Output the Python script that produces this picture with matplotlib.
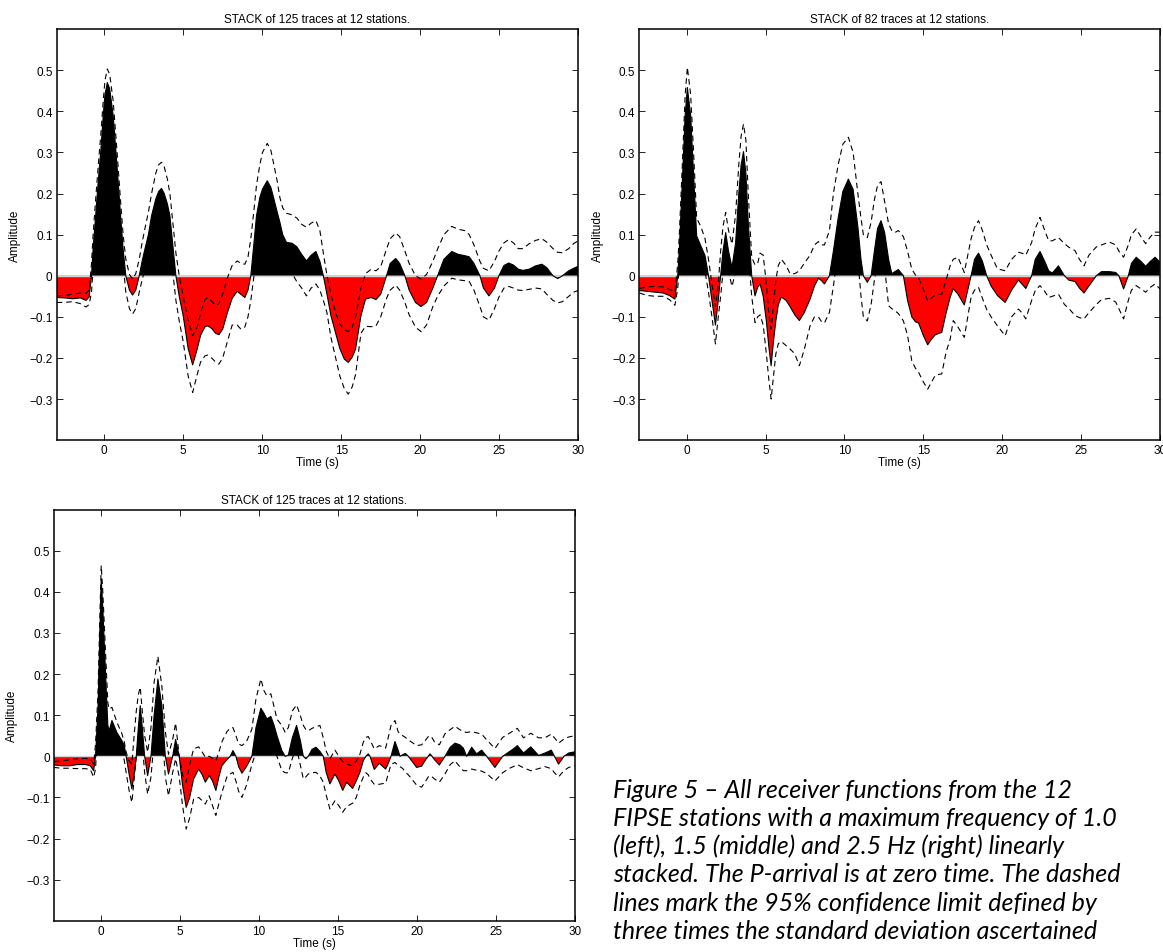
import matplotlib.pyplot as plt
from matplotlib.ticker import FuncFormatter
import numpy as np

# ---- panel 1 : 1.0 Hz, 125 traces ----
p1_time = [-3.0, -2.5, -2.0, -1.5, -1.15, -0.95, -0.8, -0.7, -0.55, -0.38,
           -0.2, -0.06, 0.05, 0.2, 0.35, 0.57, 0.75, 0.89, 1.05, 1.2,
           1.37, 1.6, 1.8, 2.0, 2.22, 2.4, 2.58, 2.8, 3.0, 3.27,
           3.45, 3.63, 3.8, 4.0, 4.16, 4.37, 4.54, 4.75, 5.0, 5.32,
           5.6, 5.89, 6.1, 6.38, 6.55, 6.8, 7.05, 7.26, 7.5, 7.8,
           8.1, 8.42, 8.65, 8.9, 9.1, 9.28, 9.48, 9.64, 9.85, 10.02,
           10.32, 10.55, 10.74, 10.95, 11.12, 11.3, 11.54, 11.9, 12.2, 12.5,
           12.8, 13.1, 13.4, 13.65, 13.87, 14.1, 14.35, 14.65, 14.92, 15.2,
           15.45, 15.7, 15.91, 16.25, 16.54, 16.9, 17.2, 17.5, 17.87, 18.1,
           18.45, 18.7, 19.03, 19.3, 19.7, 20.05, 20.4, 20.8, 21.1, 21.5,
           22.0, 22.4, 22.8, 23.1, 23.4, 23.78, 24.0, 24.35, 24.7, 24.98,
           25.3, 25.6, 25.9, 26.2, 26.5, 26.9, 27.3, 27.7, 28.0, 28.4,
           28.7, 29.0, 29.4, 29.7, 30.0]
p1_amp = [-0.053, -0.054, -0.056, -0.054, -0.06, -0.052, 0.0, 0.065, 0.14, 0.227,
          0.31, 0.39, 0.44, 0.47, 0.455, 0.39, 0.30, 0.227, 0.14, 0.065,
          0.0, -0.035, -0.047, -0.035, 0.0, 0.035, 0.065, 0.1, 0.146, 0.187,
          0.205, 0.2125, 0.2, 0.175, 0.146, 0.065, 0.0, -0.05, -0.097, -0.178,
          -0.217, -0.178, -0.145, -0.124, -0.122, -0.128, -0.14, -0.1435, -0.13, -0.09,
          -0.055, -0.038, -0.045, -0.053, -0.035, 0.0, 0.08, 0.146, 0.19, 0.211,
          0.231, 0.215, 0.187, 0.155, 0.13, 0.1, 0.081, 0.079, 0.07, 0.052,
          0.036, 0.05, 0.059, 0.035, 0.0, -0.045, -0.097, -0.14, -0.178, -0.203,
          -0.211, -0.198, -0.178, -0.097, -0.057, -0.053, -0.058, -0.045, 0.0, 0.03,
          0.042, 0.03, 0.0, -0.035, -0.065, -0.075, -0.065, -0.03, 0.0, 0.04,
          0.059, 0.052, 0.049, 0.046, 0.03, 0.0, -0.03, -0.049, -0.03, 0.0,
          0.025, 0.031, 0.026, 0.016, 0.013, 0.016, 0.024, 0.028, 0.02, 0.0,
          -0.007, 0.0, 0.012, 0.018, 0.023]
p1_upper = [-0.049, -0.048, -0.045, -0.042, -0.043, -0.035, 0.03, 0.1, 0.18, 0.265,
            0.35, 0.425, 0.475, 0.503, 0.49, 0.425, 0.335, 0.262, 0.175, 0.1,
            0.04, 0.003, -0.008, 0.005, 0.04, 0.08, 0.115, 0.155, 0.2, 0.25,
            0.27, 0.276, 0.265, 0.235, 0.2, 0.12, 0.055, 0.0, -0.05, -0.11,
            -0.146, -0.125, -0.09, -0.058, -0.053, -0.062, -0.073, -0.068, -0.045, -0.005,
            0.025, 0.036, 0.03, 0.028, 0.045, 0.09, 0.16, 0.22, 0.27, 0.3,
            0.322, 0.305, 0.27, 0.23, 0.19, 0.165, 0.152, 0.148, 0.14, 0.125,
            0.118, 0.128, 0.134, 0.11, 0.055, 0.0, -0.045, -0.09, -0.118, -0.132,
            -0.136, -0.125, -0.1, -0.03, 0.005, 0.016, 0.012, 0.022, 0.065, 0.09,
            0.104, 0.095, 0.06, 0.03, 0.0, -0.008, 0.003, 0.035, 0.065, 0.1,
            0.12, 0.113, 0.11, 0.1, 0.075, 0.035, 0.018, 0.012, 0.035, 0.06,
            0.08, 0.088, 0.08, 0.066, 0.066, 0.078, 0.086, 0.09, 0.082, 0.066,
            0.057, 0.056, 0.066, 0.078, 0.085]
p1_lower = [-0.065, -0.065, -0.063, -0.068, -0.076, -0.07, -0.04, 0.02, 0.1, 0.185,
            0.27, 0.35, 0.405, 0.435, 0.42, 0.355, 0.265, 0.19, 0.105, 0.03,
            -0.04, -0.08, -0.093, -0.08, -0.04, -0.01, 0.015, 0.045, 0.09, 0.125,
            0.14, 0.148, 0.135, 0.11, 0.08, 0.0, -0.06, -0.11, -0.16, -0.245,
            -0.284, -0.24, -0.21, -0.195, -0.193, -0.2, -0.21, -0.215, -0.2, -0.16,
            -0.12, -0.12, -0.13, -0.125, -0.1, -0.06, 0.0, 0.06, 0.1, 0.125,
            0.14, 0.125, 0.1, 0.07, 0.05, 0.025, 0.01, 0.005, -0.015, -0.03,
            -0.049, -0.03, -0.02, -0.035, -0.06, -0.09, -0.15, -0.2, -0.245, -0.275,
            -0.288, -0.27, -0.24, -0.14, -0.123, -0.124, -0.122, -0.1, -0.055, -0.035,
            -0.023, -0.035, -0.065, -0.095, -0.125, -0.136, -0.12, -0.075, -0.05, -0.025,
            -0.006, -0.01, -0.012, -0.014, -0.035, -0.075, -0.1, -0.108, -0.08, -0.052,
            -0.03, -0.026, -0.03, -0.035, -0.036, -0.033, -0.03, -0.032, -0.045, -0.06,
            -0.066, -0.063, -0.05, -0.04, -0.036]

# ---- panel 2 : 1.5 Hz, 82 traces ----
p2_time = [-3.0, -2.5, -2.0, -1.5, -1.1, -0.75, -0.57, -0.47, -0.28, -0.1,
           0.04, 0.25, 0.46, 0.63, 0.89, 1.16, 1.38, 1.6, 1.82, 2.0,
           2.15, 2.3, 2.47, 2.65, 2.87, 3.1, 3.3, 3.45, 3.6, 3.75,
           3.9, 4.12, 4.33, 4.5, 4.65, 4.85, 5.05, 5.2, 5.35, 5.5,
           5.65, 5.81, 6.0, 6.3, 6.55, 6.85, 7.14, 7.45, 7.82, 8.1,
           8.35, 8.55, 8.73, 9.05, 9.3, 9.6, 9.9, 10.25, 10.55, 10.85,
           11.05, 11.2, 11.45, 11.69, 11.9, 12.1, 12.32, 12.55, 12.8, 13.0,
           13.2, 13.42, 13.74, 14.0, 14.27, 14.5, 14.7, 15.0, 15.28, 15.5,
           15.75, 16.0, 16.17, 16.45, 16.7, 16.9, 17.2, 17.6, 18.03, 18.25,
           18.5, 18.75, 19.02, 19.3, 19.7, 20.19, 20.6, 21.03, 21.25, 21.5,
           21.87, 22.1, 22.4, 22.7, 22.95, 23.18, 23.57, 23.95, 24.24, 24.62,
           24.9, 25.19, 25.5, 25.97, 26.3, 26.8, 27.2, 27.4, 27.7, 28.0,
           28.2, 28.5, 28.8, 29.1, 29.4, 29.7, 30.0]
p2_amp = [-0.036, -0.038, -0.04, -0.042, -0.048, -0.057, 0.0, 0.065, 0.227, 0.39,
          0.458, 0.39, 0.227, 0.097, 0.073, 0.049, 0.0, -0.06, -0.12, -0.06,
          0.0, 0.06, 0.105, 0.06, 0.02, 0.08, 0.2, 0.27, 0.302, 0.25,
          0.13, 0.0, -0.049, -0.028, -0.02, -0.05, -0.11, -0.17, -0.219, -0.16,
          -0.11, -0.07, -0.052, -0.06, -0.075, -0.095, -0.109, -0.09, -0.057, -0.025,
          -0.006, -0.012, -0.02, 0.0, 0.06, 0.14, 0.205, 0.235, 0.21, 0.12,
          0.04, 0.0, -0.016, 0.0, 0.06, 0.115, 0.134, 0.105, 0.04, 0.005,
          0.01, 0.015, 0.0, -0.06, -0.1, -0.112, -0.115, -0.145, -0.168, -0.155,
          -0.144, -0.14, -0.138, -0.09, -0.053, -0.031, -0.045, -0.071, 0.0, 0.04,
          0.055, 0.035, 0.0, -0.025, -0.048, -0.065, -0.035, -0.0105, -0.02, -0.031,
          0.0, 0.04, 0.059, 0.035, 0.012, 0.0065, 0.024, 0.0, -0.011, -0.014,
          -0.03, -0.042, -0.025, 0.0, 0.01, 0.01, 0.008, 0.0, -0.032, 0.0,
          0.03, 0.045, 0.035, 0.023, 0.035, 0.045, 0.033]
p2_upper = [-0.031, -0.027, -0.026, -0.027, -0.033, -0.04, 0.03, 0.1, 0.27, 0.44,
            0.507, 0.44, 0.28, 0.14, 0.12, 0.09, 0.04, -0.02, -0.075, -0.02,
            0.06, 0.12, 0.154, 0.11, 0.077, 0.15, 0.27, 0.34, 0.369, 0.33,
            0.2, 0.045, 0.026, 0.03, 0.055, 0.05, -0.02, -0.09, -0.13, -0.07,
            -0.01, 0.025, 0.04, 0.025, 0.005, 0.005, 0.012, 0.03, 0.05, 0.075,
            0.083, 0.075, 0.075, 0.11, 0.2, 0.27, 0.32, 0.337, 0.3, 0.2,
            0.14, 0.1, 0.093, 0.13, 0.185, 0.22, 0.229, 0.18, 0.126, 0.11,
            0.105, 0.11, 0.095, 0.06, 0.016, 0.002, -0.005, -0.032, -0.062, -0.055,
            -0.047, -0.045, -0.045, -0.01, 0.024, 0.04, 0.045, 0.008, 0.09, 0.118,
            0.134, 0.11, 0.075, 0.05, 0.017, 0.012, 0.04, 0.057, 0.055, 0.05,
            0.081, 0.115, 0.142, 0.11, 0.085, 0.085, 0.093, 0.078, 0.069, 0.061,
            0.04, 0.024, 0.05, 0.07, 0.075, 0.082, 0.075, 0.06, 0.045, 0.075,
            0.1, 0.114, 0.095, 0.078, 0.095, 0.106, 0.106]
p2_lower = [-0.042, -0.048, -0.05, -0.05, -0.058, -0.072, -0.03, 0.03, 0.18, 0.34,
            0.41, 0.34, 0.18, 0.06, 0.03, 0.01, -0.04, -0.1, -0.166, -0.1,
            -0.05, 0.01, 0.055, 0.01, -0.026, 0.01, 0.13, 0.2, 0.235, 0.17,
            0.06, -0.05, -0.114, -0.1, -0.095, -0.12, -0.19, -0.25, -0.3, -0.245,
            -0.19, -0.165, -0.16, -0.17, -0.178, -0.19, -0.219, -0.18, -0.122, -0.1,
            -0.1, -0.112, -0.115, -0.089, -0.025, 0.06, 0.11, 0.135, 0.11, 0.04,
            -0.05, -0.1, -0.11, -0.07, -0.01, 0.03, 0.04, 0.02, -0.073, -0.08,
            -0.085, -0.092, -0.11, -0.145, -0.207, -0.225, -0.235, -0.258, -0.276, -0.26,
            -0.243, -0.24, -0.239, -0.185, -0.155, -0.109, -0.125, -0.15, -0.052, -0.035,
            -0.028, -0.055, -0.082, -0.1, -0.122, -0.146, -0.1, -0.081, -0.09, -0.105,
            -0.06, -0.036, -0.024, -0.038, -0.053, -0.05, -0.045, -0.07, -0.08, -0.097,
            -0.102, -0.105, -0.09, -0.07, -0.058, -0.055, -0.064, -0.08, -0.105, -0.06,
            -0.035, -0.024, -0.032, -0.04, -0.028, -0.02, -0.032]

# ---- panel 3 : 2.5 Hz, 125 traces ----
p3_time = [-3.0, -2.5, -2.0, -1.5, -1.0, -0.69, -0.48, -0.36, -0.2, -0.1,
           0.0, 0.1, 0.22, 0.32, 0.42, 0.5, 0.68, 0.99, 1.31, 1.46,
           1.58, 1.75, 1.94, 2.1, 2.22, 2.35, 2.47, 2.6, 2.75, 2.94,
           3.15, 3.35, 3.59, 3.84, 4.06, 4.26, 4.52, 4.71, 4.94, 5.15,
           5.38, 5.6, 5.85, 6.17, 6.4, 6.59, 6.84, 7.05, 7.26, 7.45,
           7.64, 7.96, 8.17, 8.34, 8.53, 8.7, 8.91, 9.2, 9.54, 9.8,
           10.11, 10.3, 10.49, 10.74, 10.95, 11.13, 11.44, 11.65, 11.85, 12.1,
           12.37, 12.6, 12.8, 12.96, 13.11, 13.35, 13.6, 13.85, 14.06, 14.25,
           14.48, 14.8, 15.05, 15.29, 15.54, 15.92, 16.15, 16.38, 16.6, 16.76,
           16.91, 17.02, 17.29, 17.61, 18.01, 18.2, 18.35, 18.6, 18.8, 18.92,
           19.1, 19.26, 19.45, 19.97, 20.29, 20.55, 20.71, 20.82, 20.95, 21.1,
           21.41, 21.77, 22.1, 22.4, 22.7, 22.93, 23.14, 23.46, 23.77, 24.09,
           24.41, 24.93, 25.42, 25.8, 26.1, 26.35, 26.74, 27.2, 27.7, 28.1,
           28.5, 28.7, 28.96, 29.3, 29.6, 30.0]
p3_amp = [-0.021, -0.023, -0.023, -0.02, -0.02, -0.023, -0.035, 0.0, 0.12, 0.28,
          0.431, 0.36, 0.25, 0.16, 0.075, 0.062, 0.087, 0.058, 0.038, 0.026,
          0.0, -0.04, -0.079, -0.04, 0.0, 0.07, 0.123, 0.07, 0.0, -0.047,
          0.0, 0.1, 0.188, 0.123, 0.0, -0.043, 0.0, 0.041, 0.0, -0.07,
          -0.124, -0.1, -0.055, -0.031, -0.045, -0.063, -0.047, -0.06, -0.083, -0.05,
          -0.023, -0.008, 0.0, 0.014, 0.0, -0.025, -0.041, -0.025, 0.0, 0.07,
          0.117, 0.105, 0.091, 0.097, 0.075, 0.05, 0.014, 0.0, 0.003, 0.045,
          0.075, 0.04, 0.0, -0.006, 0.0, 0.017, 0.022, 0.012, 0.0, -0.04,
          -0.067, -0.043, -0.06, -0.083, -0.063, -0.078, -0.06, -0.039, -0.01, 0.0,
          0.006, 0.0, -0.032, -0.017, -0.031, -0.015, 0.0, 0.036, 0.015, 0.0,
          0.004, 0.007, 0.0, -0.027, -0.024, -0.008, 0.0, 0.006, 0.0, -0.008,
          -0.021, 0.0, 0.022, 0.032, 0.028, 0.02, 0.0, 0.022, 0.006, 0.015,
          0.0, -0.027, 0.0, 0.01, 0.018, 0.026, 0.008, 0.023, 0.002, 0.008,
          0.015, 0.0, -0.019, 0.0, 0.008, 0.011]
p3_upper = [-0.013, -0.011, -0.009, -0.006, -0.005, -0.006, -0.019, 0.03, 0.16, 0.32,
            0.464, 0.4, 0.3, 0.22, 0.13, 0.115, 0.119, 0.083, 0.055, 0.035,
            0.01, -0.01, -0.019, 0.058, 0.11, 0.15, 0.168, 0.11, 0.05, 0.01,
            0.07, 0.18, 0.243, 0.17, 0.06, 0.005, 0.04, 0.081, 0.0, -0.045,
            -0.063, -0.02, 0.018, 0.023, 0.01, -0.002, 0.0, -0.005, -0.011, 0.01,
            0.035, 0.06, 0.068, 0.07, 0.05, 0.03, 0.026, 0.036, 0.066, 0.14,
            0.188, 0.16, 0.147, 0.152, 0.12, 0.09, 0.075, 0.058, 0.07, 0.11,
            0.125, 0.1, 0.075, 0.065, 0.062, 0.068, 0.072, 0.075, 0.045, 0.012,
            -0.006, 0.015, 0.0, -0.013, -0.019, -0.023, -0.012, 0.005, 0.035, 0.046,
            0.048, 0.04, 0.018, 0.026, 0.02, 0.05, 0.075, 0.087, 0.06, 0.054,
            0.05, 0.046, 0.04, 0.026, 0.028, 0.04, 0.048, 0.05, 0.045, 0.035,
            0.028, 0.055, 0.065, 0.073, 0.065, 0.06, 0.058, 0.06, 0.057, 0.054,
            0.04, 0.019, 0.046, 0.055, 0.062, 0.068, 0.045, 0.056, 0.045, 0.045,
            0.054, 0.045, 0.032, 0.042, 0.047, 0.05]
p3_lower = [-0.027, -0.029, -0.029, -0.03, -0.03, -0.032, -0.051, -0.03, 0.08, 0.24,
            0.4, 0.32, 0.2, 0.1, 0.02, 0.01, 0.05, 0.03, 0.015, -0.01,
            -0.04, -0.08, -0.112, -0.05, 0.0, 0.04, 0.08, 0.03, -0.04, -0.092,
            -0.05, 0.04, 0.135, 0.07, -0.05, -0.096, -0.04, -0.006, -0.05, -0.12,
            -0.177, -0.15, -0.104, -0.1, -0.108, -0.116, -0.096, -0.12, -0.144, -0.115,
            -0.088, -0.05, -0.043, -0.039, -0.06, -0.085, -0.1, -0.07, -0.02, 0.01,
            0.05, 0.04, 0.035, 0.04, 0.02, 0.0, -0.035, -0.04, -0.04, -0.005,
            0.02, -0.02, -0.055, -0.05, -0.043, -0.04, -0.039, -0.048, -0.063, -0.095,
            -0.128, -0.108, -0.12, -0.136, -0.122, -0.114, -0.1, -0.07, -0.05, -0.04,
            -0.045, -0.055, -0.068, -0.068, -0.065, -0.04, -0.02, -0.015, -0.022, -0.025,
            -0.03, -0.039, -0.045, -0.07, -0.075, -0.06, -0.05, -0.047, -0.05, -0.055,
            -0.063, -0.043, -0.02, -0.011, -0.025, -0.035, -0.035, -0.031, -0.034, -0.036,
            -0.042, -0.06, -0.04, -0.03, -0.025, -0.02, -0.028, -0.035, -0.03, -0.025,
            -0.03, -0.04, -0.05, -0.035, -0.027, -0.023]

titles = ['STACK of 125 traces at 12 stations.',
          'STACK of 82 traces at 12 stations.',
          'STACK of 125 traces at 12 stations.']
x_ticks = [0, 5, 10, 15, 20, 25, 30]
y_ticks = [-0.3, -0.2, -0.1, 0, 0.1, 0.2, 0.3, 0.4, 0.5]

caption = ['Figure 5 \u2013 All receiver functions from the 12',
           'FIPSE stations with a maximum frequency of 1.0',
           '(left), 1.5 (middle) and 2.5 Hz (right) linearly',
           'stacked. The P-arrival is at zero time. The dashed',
           'lines mark the 95% confidence limit defined by',
           'three times the standard deviation ascertained']

plt.rcParams['font.family'] = ['Liberation Sans', 'DejaVu Sans']
FS = 8.5


def fmt_y(v, pos):
    if abs(v) < 1e-9:
        return '0'
    return ('%g' % v).replace('-', '\u2212')


def draw_stack(ax, time, amp, upper, lower, title):
    time = np.array(time)
    amp = np.array(amp)
    ax.fill_between(time, amp, 0, where=amp >= 0, interpolate=True,
                    color='black', lw=0)
    ax.fill_between(time, amp, 0, where=amp <= 0, interpolate=True,
                    color='#ff0000', lw=0)
    ax.axhline(0, color='#d4d4d4', lw=1.0)
    ax.plot(time, amp, color='black', lw=0.8)
    ax.plot(time, upper, color='black', lw=0.8, ls=(0, (5, 3.5)))
    ax.plot(time, lower, color='black', lw=0.8, ls=(0, (5, 3.5)))

    ax.set_xlim(-3, 30)
    ax.set_ylim(-0.4, 0.6)
    ax.set_xticks(x_ticks)
    ax.set_yticks(y_ticks)
    ax.yaxis.set_major_formatter(FuncFormatter(fmt_y))
    ax.tick_params(direction='in', length=4, width=0.6, top=True, right=True,
                   labelsize=FS, pad=3)
    for s in ax.spines.values():
        s.set_linewidth(1.1)
    ax.set_title(title, fontsize=FS, pad=5)
    ax.set_xlabel('Time (s)', fontsize=FS, labelpad=0)
    ax.set_ylabel('Amplitude', fontsize=FS, labelpad=6)


fig = plt.figure(figsize=(11.63, 9.53), dpi=100)
ax1 = fig.add_axes([0.0488, 0.5371, 0.4484, 0.4313])
ax2 = fig.add_axes([0.5498, 0.5371, 0.4475, 0.4313])
ax3 = fig.add_axes([0.0463, 0.0327, 0.4481, 0.4316])

draw_stack(ax1, p1_time, p1_amp, p1_upper, p1_lower, titles[0])
draw_stack(ax2, p2_time, p2_amp, p2_upper, p2_lower, titles[1])
draw_stack(ax3, p3_time, p3_amp, p3_upper, p3_lower, titles[2])

# caption, in the free bottom-right corner
for i, line in enumerate(caption):
    fig.text(0.5275, 1 - (790 + i * 28.3) / 953, line, fontsize=18,
             family=['Lato', 'DejaVu Sans'], style='italic', va='center')

fig.savefig('out.png', dpi=100)
